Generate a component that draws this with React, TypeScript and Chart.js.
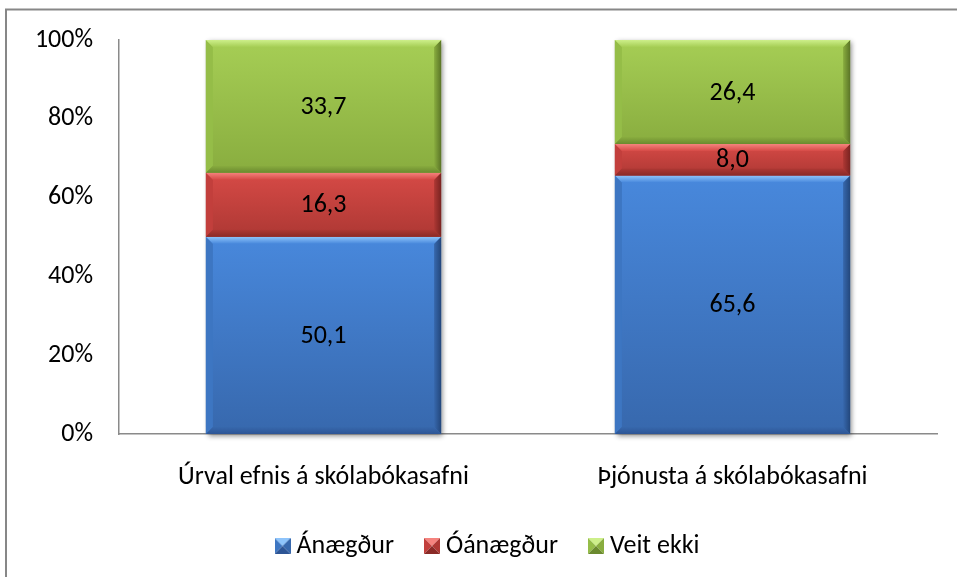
import React, { useEffect, useRef } from 'react';
import { Chart, registerables } from 'chart.js';

Chart.register(...registerables);

// ---- data ----
const categories = ['Úrval efnis á skólabókasafni', 'Þjónusta á skólabókasafni'];
const seriesNames = ['Ánægður', 'Óánægður', 'Veit ekki'];
const anaegdur = [50.1, 65.6];
const oanaegdur = [16.3, 8.0];
const veitEkki = [33.7, 26.4];
const yTickValues = [0, 20, 40, 60, 80, 100];

const FONT = "Carlito, Calibri, Lato, 'Open Sans', sans-serif";
const FS = 26;

const palettes = [
  { base: '#4282d5', top: '#4888dc', bottom: '#3768ad', light: '#8ec4fb', dark: '#2d5595', side: '#3d76c2', edge: '#23477c' },
  { base: '#d04542', top: '#d64a46', bottom: '#ae3834', light: '#f5837e', dark: '#8a2a27', side: '#c23f3c', edge: '#7a2321' },
  { base: '#9bc64c', top: '#a6ce55', bottom: '#89ad3f', light: '#cdef8a', dark: '#6b8a2f', side: '#95bd48', edge: '#5b7527' },
];

const rawSeries = [anaegdur, oanaegdur, veitEkki];

function makeMarker(p: any): HTMLCanvasElement {
  const c = document.createElement('canvas');
  c.width = 16;
  c.height = 16;
  const x = c.getContext('2d')!;
  const s = 16, h = 8;
  const tri = (pts: number[][], col: string) => {
    x.beginPath();
    x.moveTo(pts[0][0], pts[0][1]);
    for (let i = 1; i < pts.length; i++) x.lineTo(pts[i][0], pts[i][1]);
    x.closePath();
    x.fillStyle = col;
    x.fill();
  };
  tri([[0, 0], [s, 0], [h, h]], p.light);
  tri([[0, 0], [h, h], [0, s]], p.side);
  tri([[s, 0], [s, s], [h, h]], p.bottom);
  tri([[0, s], [h, h], [s, s]], p.dark);
  return c;
}

function segRect(el: any) {
  const p = el.getProps(['x', 'y', 'base', 'width'], true);
  const L = p.x - p.width / 2;
  const R = p.x + p.width / 2;
  const T = Math.min(p.y, p.base);
  const B = Math.max(p.y, p.base);
  return { L, R, T, B };
}

const framePlugin = {
  id: 'frame',
  afterLayout(chart: any) {
    if (chart.legend) {
      chart.legend.left += 22;
      chart.legend.right += 22;
    }
  },
  afterDraw(chart: any) {
    const ctx = chart.ctx;
    ctx.save();
    ctx.strokeStyle = '#878787';
    ctx.lineWidth = 2;
    ctx.strokeRect(6, 9.5, 2000, 2000);
    ctx.restore();
  },
};

const bevelPlugin = {
  id: 'bevel',
  beforeDatasetsDraw(chart: any) {
    const ctx = chart.ctx;
    const n = chart.data.labels.length;
    for (let i = 0; i < n; i++) {
      let L = Infinity, R = -Infinity, T = Infinity, B = -Infinity;
      chart.data.datasets.forEach((_: any, d: number) => {
        const el = chart.getDatasetMeta(d).data[i];
        if (!el) return;
        const r = segRect(el);
        L = Math.min(L, r.L); R = Math.max(R, r.R); T = Math.min(T, r.T); B = Math.max(B, r.B);
      });
      ctx.save();
      ctx.shadowColor = 'rgba(0,0,0,0.45)';
      ctx.shadowBlur = 5;
      ctx.shadowOffsetX = 2;
      ctx.shadowOffsetY = 2;
      ctx.fillStyle = '#888';
      ctx.fillRect(L, T, R - L, B - T);
      ctx.restore();
    }
  },
  afterDatasetsDraw(chart: any) {
    const ctx = chart.ctx;
    chart.data.datasets.forEach((ds: any, d: number) => {
      const p = palettes[d];
      chart.getDatasetMeta(d).data.forEach((el: any) => {
        const { L, R, T, B } = segRect(el);
        const w = R - L, h = B - T;
        if (h <= 0) return;
        ctx.save();
        let g = ctx.createLinearGradient(0, T, 0, B);
        g.addColorStop(0, p.top);
        g.addColorStop(1, p.bottom);
        ctx.fillStyle = g;
        ctx.fillRect(L, T, w, h);
        const b = Math.min(7, h / 3, w / 3);
        const poly = (pts: number[][], fill: any) => {
          ctx.beginPath();
          ctx.moveTo(pts[0][0], pts[0][1]);
          for (let k = 1; k < pts.length; k++) ctx.lineTo(pts[k][0], pts[k][1]);
          ctx.closePath();
          ctx.fillStyle = fill;
          ctx.fill();
        };
        poly([[L, T], [L + b, T + b], [L + b, B - b], [L, B]], p.side);
        g = ctx.createLinearGradient(R - b, 0, R, 0);
        g.addColorStop(0, p.bottom);
        g.addColorStop(1, p.edge);
        poly([[R, T], [R, B], [R - b, B - b], [R - b, T + b]], g);
        g = ctx.createLinearGradient(0, T, 0, T + b);
        g.addColorStop(0, p.light);
        g.addColorStop(1, p.top);
        poly([[L, T], [R, T], [R - b, T + b], [L + b, T + b]], g);
        g = ctx.createLinearGradient(0, B - b, 0, B);
        g.addColorStop(0, p.bottom);
        g.addColorStop(1, p.dark);
        poly([[L, B], [L + b, B - b], [R - b, B - b], [R, B]], g);
        ctx.restore();
      });
    });
    ctx.save();
    ctx.font = `${FS}px ${FONT}`;
    ctx.fillStyle = '#000';
    ctx.textAlign = 'center';
    ctx.textBaseline = 'middle';
    chart.data.datasets.forEach((ds: any, d: number) => {
      chart.getDatasetMeta(d).data.forEach((el: any, i: number) => {
        const { L, R, T, B } = segRect(el);
        const v = rawSeries[d][i];
        ctx.fillText(v.toFixed(1).replace('.', ','), (L + R) / 2, (T + B) / 2 + 1);
      });
    });
    ctx.restore();
  },
};

export default function App() {
  const ref = useRef<HTMLCanvasElement>(null);
  useEffect(() => {
    document.body.style.margin = '0';
    const totals = categories.map((_, i) => anaegdur[i] + oanaegdur[i] + veitEkki[i]);
    const markers = palettes.map(makeMarker);
    const datasets = rawSeries.map((vals, d) => ({
      label: seriesNames[d],
      data: vals.map((v, i) => (v / totals[i]) * 100),
      backgroundColor: palettes[d].base,
      borderWidth: 0,
      barPercentage: 0.575,
      categoryPercentage: 1,
    }));
    const chart = new Chart(ref.current!, {
      type: 'bar',
      data: { labels: categories, datasets },
      options: {
        animation: false,
        responsive: false,
        devicePixelRatio: 1,
        layout: { padding: { left: 0, right: 20, top: 40, bottom: 8 } },
        plugins: {
          tooltip: { enabled: false },
          legend: {
            position: 'bottom',
            labels: {
              usePointStyle: true,
              pointStyleWidth: 2,
              font: { family: FONT, size: FS },
              color: '#000',
              padding: 37,
              boxWidth: 16,
              boxHeight: 16,
              generateLabels: (ch: any) =>
                ch.data.datasets.map((ds: any, i: number) => ({
                  text: ds.label,
                  pointStyle: markers[i],
                  fillStyle: palettes[i].base,
                  strokeStyle: 'transparent',
                  lineWidth: 0,
                  hidden: false,
                  datasetIndex: i,
                  fontColor: '#000',
                })),
            },
          },
        },
        scales: {
          x: {
            stacked: true,
            grid: { display: false, drawTicks: false },
            border: { display: true, color: '#8a8a8a', width: 1.5 },
            ticks: { color: '#000', font: { family: FONT, size: FS }, padding: 28, maxRotation: 0 },
            afterFit: (s: any) => { s.height = 62; },
          },
          y: {
            stacked: true,
            min: 0,
            max: 100,
            grid: { display: false, drawTicks: false },
            border: { display: true, color: '#8a8a8a', width: 1.5 },
            afterBuildTicks: (s: any) => { s.ticks = yTickValues.map((v) => ({ value: v })); },
            ticks: {
              color: '#000',
              font: { family: FONT, size: FS },
              padding: 26,
              callback: (v: any) => `${v}%`,
            },
            afterFit: (s: any) => {
              s.width = 119;
              s.paddingTop = 0;
              s.paddingBottom = 0;
            },
          },
        },
      },
      plugins: [bevelPlugin, framePlugin],
    });
    return () => chart.destroy();
  }, []);
  return (
    <div style={{ position: 'absolute', left: 0, top: 0, width: 957, height: 577, background: '#fff' }}>
      <canvas ref={ref} width={957} height={577} style={{ display: 'block' }} />
    </div>
  );
}
